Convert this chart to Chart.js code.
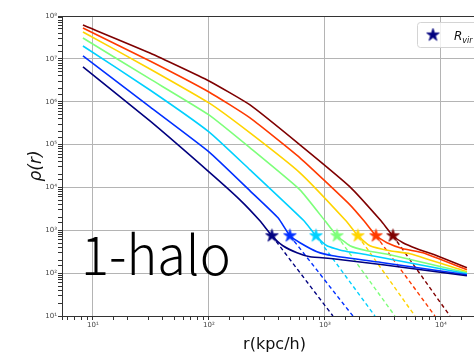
<!DOCTYPE html>
<html><head><meta charset="utf-8">
<script src="https://cdn.jsdelivr.net/npm/chart.js@4.4.1/dist/chart.umd.min.js"></script>
<style>
html,body{margin:0;padding:0;background:#fff;overflow:hidden;width:474px;height:354px;}
#wrap{position:absolute;left:0;top:0;width:500px;height:354px;}
</style></head><body>
<div id="wrap"><canvas id="c" width="500" height="354"></canvas></div>
<script>
// ---- data ----
const seriesNames = ['halo 1','halo 2','halo 3','halo 4','halo 5','halo 6','halo 7'];
const seriesColors = ['#00007f','#0030ff','#00d0ff','#7dff7a','#ffd400','#ff3a00','#7f0000'];

const rNavy    = [8.2,31,100,185,275,349,434,574,743,1172,3162,16755];
const rhoNavy  = [6.47e6,3.56e5,2.31e4,5140,1665,745,436,299,241,217,157,86.9];
const rBlue    = [8.2,31,100,226,394,499,609,853,1172,3162,16755];
const rhoBlue  = [1.17e7,7.57e5,6.76e4,8340,1955,745,512,316,255,175,91.8];
const rCyan    = [8.2,31,100,226,659,837,1040,1430,2302,16755];
const rhoCyan  = [2.00e7,1.88e6,1.98e5,2.57e4,1665,745,436,333,269,96.9];
const rGreen   = [8.2,31,100,226,609,1000,1269,1643,2302,3634,16755];
const rhoGreen = [3.07e7,3.40e6,4.92e5,8.38e4,8790,1665,745,436,333,269,102];
const rYellow  = [8.2,31,100,226,609,1517,1925,2443,3634,5406,16755];
const rhoYellow= [4.24e7,5.82e6,9.37e5,1.87e5,2.19e4,1665,745,436,333,283,108];
const rOrange  = [8.2,31,100,226,609,1643,2168,2753,3424,4703,6996,16755];
const rhoOrange= [5.25e7,8.93e6,1.69e6,4.19e5,4.90e4,3930,1665,745,512,371,299,120];
const rDarkRed = [8.2,31,100,226,609,1643,3041,3857,4703,6212,9237,16755];
const rhoDarkRed=[6.17e7,1.37e7,3.05e6,8.41e5,9.84e4,1.03e4,1665,745,512,371,255,134];

const rVir = [349,499,837,1269,1925,2753,3857];
const rhoVir = 745;
const rDashEnd = [1172,1743,2698,4012,5970,8878,11958];
const rhoDashEnd = 10;

const xTickLabels = ['10\u00b9','10\u00b2','10\u00b3','10\u2074'];
const yTickLabels = ['10\u00b9','10\u00b2','10\u00b3','10\u2074','10\u2075','10\u2076','10\u2077','10\u2078'];
const xMin = 5.41, xMax = 24950, yMin = 10, yMax = 1e8;

const solidR = [rNavy,rBlue,rCyan,rGreen,rYellow,rOrange,rDarkRed];
const solidRho = [rhoNavy,rhoBlue,rhoCyan,rhoGreen,rhoYellow,rhoOrange,rhoDarkRed];

// ---- helpers ----
function makeStar(color, size){
  const c = document.createElement('canvas'); c.width = size; c.height = size;
  const g = c.getContext('2d'); const cx = size/2, cy = size/2, R = size/2 - 0.8, r = R*0.382;
  g.beginPath();
  for (let i = 0; i < 10; i++){
    const a = -Math.PI/2 + i*Math.PI/5, rad = (i % 2) ? r : R;
    g.lineTo(cx + rad*Math.cos(a), cy + rad*Math.sin(a));
  }
  g.closePath(); g.fillStyle = color; g.fill();
  g.strokeStyle = color; g.lineWidth = 0.8; g.stroke();
  return c;
}
function isMajor(v){ const e = Math.log10(v); return Math.abs(e - Math.round(e)) < 1e-9; }

const datasets = [];
solidR.forEach((rs, i) => {
  datasets.push({
    label: seriesNames[i],
    data: rs.map((x, j) => ({x, y: solidRho[i][j]})),
    showLine: true, borderColor: seriesColors[i], backgroundColor: seriesColors[i],
    borderWidth: 1.6, pointRadius: 0, tension: 0.15, borderJoinStyle: 'round', order: 1
  });
  datasets.push({
    label: seriesNames[i] + ' 1-halo',
    data: [{x: rVir[i], y: rhoVir}, {x: rDashEnd[i], y: rhoDashEnd}],
    showLine: true, borderColor: seriesColors[i], borderWidth: 1.4, borderDash: [4, 3],
    pointRadius: 0, order: 2
  });
});
datasets.push({
  label: 'R_vir',
  data: rVir.map(x => ({x, y: rhoVir})),
  showLine: false, pointRadius: 7,
  pointStyle: seriesColors.map(c => makeStar(c, 15)),
  backgroundColor: seriesColors, borderColor: seriesColors, order: 0
});

const framePlugin = {
  id: 'frame',
  beforeDatasetsDraw(chart){
    const {ctx, chartArea: a} = chart;
    ctx.save(); ctx.strokeStyle = '#333'; ctx.lineWidth = 1;
    ctx.beginPath();
    ctx.moveTo(a.left, Math.round(a.top) + 0.5); ctx.lineTo(a.right, Math.round(a.top) + 0.5);
    ctx.moveTo(Math.round(a.right) - 0.5, a.top); ctx.lineTo(Math.round(a.right) - 0.5, a.bottom);
    ctx.stroke(); ctx.restore();
  }
};
const overlayPlugin = {
  id: 'overlay',
  afterDatasetsDraw(chart){
    const ctx = chart.ctx;
    ctx.save();
    // legend box
    const bx = 417.5, by = 22.5, bw = 70, bh = 25, br = 3;
    ctx.beginPath();
    ctx.moveTo(bx + br, by); ctx.lineTo(bx + bw - br, by); ctx.arcTo(bx + bw, by, bx + bw, by + br, br);
    ctx.lineTo(bx + bw, by + bh - br); ctx.arcTo(bx + bw, by + bh, bx + bw - br, by + bh, br);
    ctx.lineTo(bx + br, by + bh); ctx.arcTo(bx, by + bh, bx, by + bh - br, br);
    ctx.lineTo(bx, by + br); ctx.arcTo(bx, by, bx + br, by, br); ctx.closePath();
    ctx.fillStyle = 'rgba(255,255,255,0.8)'; ctx.fill();
    ctx.strokeStyle = '#d4d4d4'; ctx.lineWidth = 1; ctx.stroke();
    const st = makeStar(seriesColors[0], 15);
    ctx.drawImage(st, 433 - 7.5, 35 - 7.5);
    ctx.fillStyle = '#111'; ctx.textBaseline = 'alphabetic'; ctx.textAlign = 'left';
    ctx.font = 'italic 12px "DejaVu Sans"';
    ctx.fillText('R', 454, 40);
    const w = ctx.measureText('R').width;
    ctx.font = 'italic 8px "DejaVu Sans"';
    ctx.fillText('vir', 454 + w, 43);
    // "1-halo"
    const txt = '1-halo';
    const fam = '"Noto Sans CJK SC", "Noto Sans", sans-serif';
    ctx.font = '300 100px ' + fam;
    const m = ctx.measureText(txt);
    const size = 43 * 100 / m.actualBoundingBoxAscent;
    ctx.font = '300 ' + size + 'px ' + fam;
    const m2 = ctx.measureText(txt);
    const inkW = m2.actualBoundingBoxRight + m2.actualBoundingBoxLeft;
    const sx = 143 / inkW;
    ctx.translate(85, 275); ctx.scale(sx, 1);
    ctx.fillStyle = '#000';
    ctx.fillText(txt, m2.actualBoundingBoxLeft, 0);
    ctx.restore();
  }
};

new Chart(document.getElementById('c'), {
  type: 'scatter',
  data: { datasets },
  options: {
    responsive: false, animation: false, devicePixelRatio: 1,
    layout: { padding: { left: 0, top: 16, right: 13, bottom: 0 } },
    plugins: { legend: { display: false }, tooltip: { enabled: false } },
    scales: {
      x: {
        type: 'logarithmic', min: xMin, max: xMax, position: 'bottom',
        afterFit: s => { s.height = 38; },
        grid: { color: c => (c.tick && isMajor(c.tick.value)) ? '#b4b4b4' : 'rgba(0,0,0,0)', tickColor: '#333', tickLength: 4, lineWidth: 1 },
        border: { color: '#333', width: 1 },
        ticks: { autoSkip: false, maxRotation: 0, padding: 1, color: '#444', font: { family: 'DejaVu Sans', size: 7 },
          callback: v => isMajor(v) ? xTickLabels[Math.round(Math.log10(v)) - 1] : '' },
        title: { display: true, text: 'r(kpc/h)', color: '#111', font: { family: 'DejaVu Sans', size: 16 }, padding: { top: 0, bottom: 0 } }
      },
      y: {
        type: 'logarithmic', min: yMin, max: yMax, position: 'left',
        afterFit: s => { s.width = 62; },
        grid: { color: c => (c.tick && isMajor(c.tick.value)) ? '#b4b4b4' : 'rgba(0,0,0,0)', tickColor: '#333', tickLength: 4, lineWidth: 1 },
        border: { color: '#333', width: 1 },
        ticks: { autoSkip: false, padding: 1, color: '#444', font: { family: 'DejaVu Sans', size: 7 },
          callback: v => isMajor(v) ? yTickLabels[Math.round(Math.log10(v)) - 1] : '' },
        title: { display: true, text: '\u03c1(r)', color: '#111', font: { family: 'DejaVu Sans', size: 17, style: 'italic' }, padding: { top: 26, bottom: 0 } }
      }
    }
  },
  plugins: [framePlugin, overlayPlugin]
});
</script>
</body></html>
